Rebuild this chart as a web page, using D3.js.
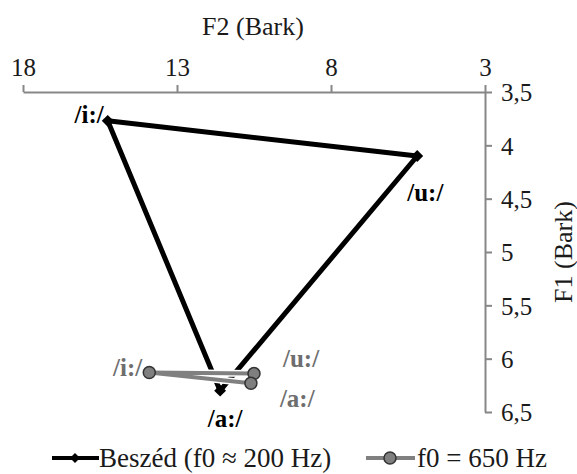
<!DOCTYPE html>
<html>
<head>
<meta charset="utf-8">
<script src="https://cdn.jsdelivr.net/npm/d3@7"></script>
<style>
  html, body { margin: 0; padding: 0; background: #fff; }
  svg { display: block; }
</style>
</head>
<body>
<svg id="chart" width="577" height="474"></svg>
<script>
// Vowel formant data (Bark)
const vowels = ["/i:/", "/u:/", "/a:/"];
const speechF2 = [15.25, 5.2, 11.6];
const speechF1 = [3.77, 4.1, 6.3];
const singF2 = [13.9, 10.5, 10.6];
const singF1 = [6.13, 6.14, 6.23];
const seriesNames = ["Beszéd (f0 \u2248 200 Hz)", "f0 = 650 Hz"];
const f2Ticks = [18, 13, 8, 3];
const f1Ticks = [3.5, 4, 4.5, 5, 5.5, 6, 6.5];

const SERIF = "Liberation Serif";
const svg = d3.select("#chart");
const axisColor = "#878787";
const ink = "#1a1a1a";

const x = d3.scaleLinear().domain([18, 3]).range([23, 485]);
const y = d3.scaleLinear().domain([3.5, 6.5]).range([92, 412]);
const fmt = d => String(d).replace(".", ",");

// Top axis (F2)
const gx = svg.append("g").attr("transform", `translate(0,${y(3.5)})`)
  .call(d3.axisTop(x).tickValues(f2Ticks).tickSize(7).tickSizeOuter(0).tickPadding(9).tickFormat(d => d));
// Right axis (F1)
const gy = svg.append("g").attr("transform", `translate(${x(3)},0)`)
  .call(d3.axisRight(y).tickValues(f1Ticks).tickSize(7).tickSizeOuter(0).tickPadding(9).tickFormat(fmt));

[gx, gy].forEach(g => {
  g.attr("font-family", SERIF).attr("font-size", 25);
  g.select(".domain").attr("stroke", axisColor).attr("stroke-width", 2);
  g.selectAll(".tick line").attr("stroke", axisColor).attr("stroke-width", 2);
  g.selectAll(".tick text").attr("fill", ink);
});
gy.selectAll(".tick text").attr("dy", "0.35em");

function label(sel, size) {
  return sel.attr("font-family", SERIF).attr("font-size", size);
}

// Axis titles
label(svg.append("text"), 26).attr("x", 253).attr("y", 35).attr("text-anchor", "middle")
  .attr("fill", ink).text("F2 (Bark)");
label(svg.append("text"), 26).attr("transform", `translate(572,${y(5)}) rotate(-90)`)
  .attr("text-anchor", "middle").attr("fill", ink).text("F1 (Bark)");

const speech = vowels.map((v, i) => ({v, f2: speechF2[i], f1: speechF1[i]}));
const sing = vowels.map((v, i) => ({v, f2: singF2[i], f1: singF1[i]}));

const line = d3.line().x(d => x(d.f2)).y(d => y(d.f1));
const closed = arr => arr.concat([arr[0]]);

// Speech triangle
svg.append("path").datum(closed(speech)).attr("d", line)
  .attr("fill", "none").attr("stroke", "#000").attr("stroke-width", 5).attr("stroke-linejoin", "round");
svg.selectAll(".sp").data(speech).join("path")
  .attr("transform", d => `translate(${x(d.f2)},${y(d.f1)}) rotate(45)`)
  .attr("d", d3.symbol().type(d3.symbolSquare).size(70)).attr("fill", "#000");

// Sung vowels
svg.append("path").datum(closed(sing)).attr("d", line)
  .attr("fill", "none").attr("stroke", "#fff").attr("stroke-width", 7).attr("stroke-linejoin", "round");
svg.append("path").datum(closed(sing)).attr("d", line)
  .attr("fill", "none").attr("stroke", "#808080").attr("stroke-width", 4).attr("stroke-linejoin", "round");
svg.selectAll(".sg").data(sing).join("circle")
  .attr("cx", d => x(d.f2)).attr("cy", d => y(d.f1)).attr("r", 6)
  .attr("fill", "#7f7f7f").attr("stroke", "#333").attr("stroke-width", 1.5);

// Vowel labels
const speechLab = [{dx: -4, dy: 2, anchor: "end"}, {dx: -10, dy: 45, anchor: "start"}, {dx: 5, dy: 36, anchor: "middle"}];
label(svg.selectAll(".spl").data(speech).join("text"), 25)
  .attr("x", (d, i) => x(d.f2) + speechLab[i].dx).attr("y", (d, i) => y(d.f1) + speechLab[i].dy)
  .attr("text-anchor", (d, i) => speechLab[i].anchor)
  .attr("font-weight", "bold").attr("fill", "#000").text(d => d.v);

const singLab = [{dx: -7, dy: 3, anchor: "end"}, {dx: 29, dy: -7, anchor: "start"}, {dx: 29, dy: 24, anchor: "start"}];
label(svg.selectAll(".sgl").data(sing).join("text"), 25)
  .attr("x", (d, i) => x(d.f2) + singLab[i].dx).attr("y", (d, i) => y(d.f1) + singLab[i].dy)
  .attr("text-anchor", (d, i) => singLab[i].anchor)
  .attr("font-weight", "bold").attr("fill", "#6e6e6e").text(d => d.v);

// Legend
const legY = 458;
const leg = svg.append("g");
leg.append("line").attr("x1", 52).attr("x2", 99).attr("y1", legY).attr("y2", legY)
  .attr("stroke", "#000").attr("stroke-width", 4);
leg.append("path").attr("transform", `translate(75,${legY}) rotate(45)`)
  .attr("d", d3.symbol().type(d3.symbolSquare).size(50)).attr("fill", "#000");
label(leg.append("text"), 27).attr("x", 99).attr("y", legY + 9).attr("fill", ink).text(seriesNames[0]);
leg.append("line").attr("x1", 366).attr("x2", 415).attr("y1", legY).attr("y2", legY)
  .attr("stroke", "#808080").attr("stroke-width", 4);
leg.append("circle").attr("cx", 390).attr("cy", legY).attr("r", 6)
  .attr("fill", "#7f7f7f").attr("stroke", "#333").attr("stroke-width", 1.5);
label(leg.append("text"), 27).attr("x", 417).attr("y", legY + 9).attr("fill", ink).text(seriesNames[1]);
</script>
</body>
</html>
